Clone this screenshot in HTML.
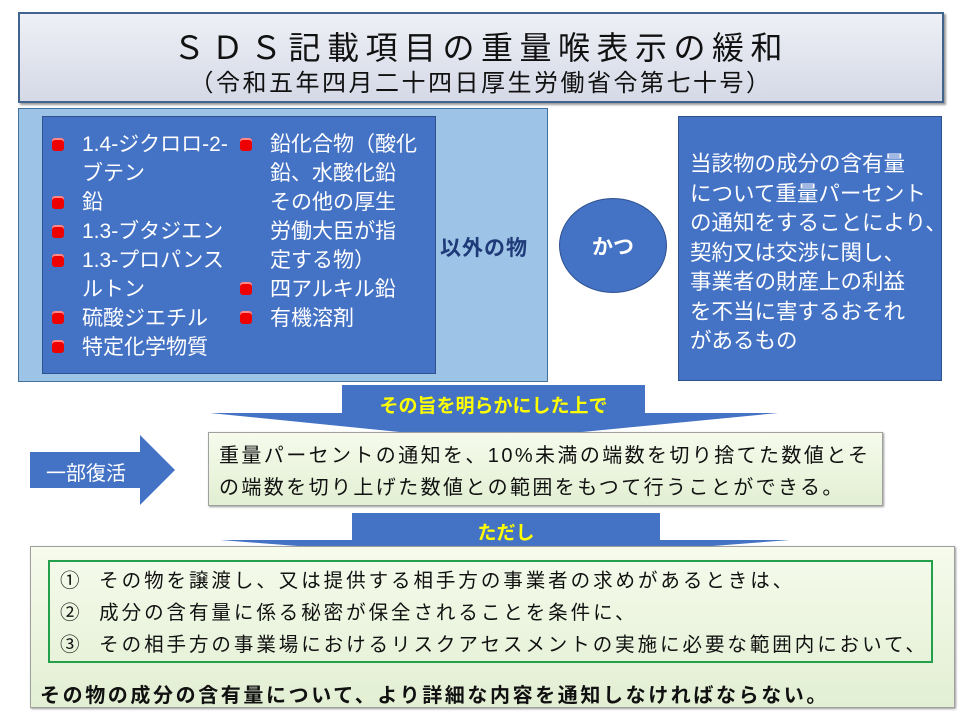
<!DOCTYPE html>
<html><head><meta charset="utf-8"><style>
*{margin:0;padding:0;box-sizing:border-box}
body{width:960px;height:720px;background:#fff;position:relative;overflow:hidden;font-family:"Liberation Sans","Noto Sans CJK JP",sans-serif}
.a{position:absolute}
.t{white-space:nowrap;position:absolute}
.bul{position:absolute;width:12px;height:13px;background:#e00;border-radius:3px;box-shadow:inset 0 2px 0 #f88}
.li{position:absolute;color:#fff;font-size:21px;line-height:29px;white-space:nowrap}
</style></head><body>
<div class="a" style="left:18px;top:12px;width:926px;height:91px;background:linear-gradient(#eef0f6,#d5d9e6);border:2px solid #41648f;box-shadow:2px 2px 2px #999"></div>
<div class="t" style="left:18px;width:926px;top:23px;text-align:center;font-size:32px;letter-spacing:6.5px;color:#111">ＳＤＳ記載項目の重量喉表示の緩和</div>
<div class="t" style="left:18px;width:926px;top:63px;text-align:center;font-size:24px;letter-spacing:2.5px;color:#111">（令和五年四月二十四日厚生労働省令第七十号）</div>

<div class="a" style="left:18px;top:108px;width:530px;height:274px;background:#9dc3e6;border:1px solid #41719c"></div>
<div class="a" style="left:42px;top:116px;width:394px;height:258px;background:#4472c4;border:1px solid #2f528f"></div>
<div class="bul" style="left:52px;top:138px"></div>
<div class="bul" style="left:52px;top:196px"></div>
<div class="bul" style="left:52px;top:225px"></div>
<div class="bul" style="left:52px;top:254px"></div>
<div class="bul" style="left:52px;top:311px"></div>
<div class="bul" style="left:52px;top:340px"></div>
<div class="li" style="left:82px;top:130px">1.4-ジクロロ-2-<br>ブテン<br>鉛<br>1.3-ブタジエン<br>1.3-プロパンス<br>ルトン<br>硫酸ジエチル<br>特定化学物質</div>
<div class="bul" style="left:240px;top:138px"></div>
<div class="bul" style="left:240px;top:282px"></div>
<div class="bul" style="left:240px;top:311px"></div>
<div class="li" style="left:270px;top:130px">鉛化合物（酸化<br>鉛、水酸化鉛<br>その他の厚生<br>労働大臣が指<br>定する物）<br>四アルキル鉛<br>有機溶剤</div>
<div class="t" style="left:440px;top:232px;font-size:21px;font-weight:bold;color:#1f3a78;letter-spacing:1px">以外の物</div>

<div class="a" style="left:559px;top:198px;width:108px;height:95px;border-radius:50%;background:#4472c4;border:1px solid #2f528f"></div>
<div class="t" style="left:559px;width:108px;top:231px;text-align:center;font-size:21px;font-weight:bold;color:#fff">かつ</div>

<div class="a" style="left:678px;top:116px;width:264px;height:265px;background:#4472c4;border:1px solid #2f528f"></div>
<div class="li" style="left:690px;top:150px;font-size:21.5px;line-height:29.5px">当該物の成分の含有量<br>について重量パーセント<br>の通知をすることにより、<br>契約又は交渉に関し、<br>事業者の財産上の利益<br>を不当に害するおそれ<br>があるもの</div>

<svg class="a" style="left:0;top:0" width="960" height="720">
<polygon points="342,385 645,385 645,413 778,413 490,441 210,413 342,413" fill="#4472c4"/>
<polygon points="352,513 660,513 660,540 790,540 505,562 220,540 352,540" fill="#4472c4"/>
<polygon points="30,452 140,452 140,435 175,470 140,505 140,488 30,488" fill="#4472c4"/>
</svg>
<div class="t" style="left:342px;width:303px;top:391px;text-align:center;font-size:19px;font-weight:bold;color:#ff0">その旨を明らかにした上で</div>
<div class="t" style="left:352px;width:308px;top:518px;text-align:center;font-size:19px;font-weight:bold;color:#ff0">ただし</div>
<div class="t" style="left:30px;width:112px;top:457px;text-align:center;font-size:20px;color:#fff">一部復活</div>

<div class="a" style="left:208px;top:432px;width:675px;height:74px;background:linear-gradient(#f6fbec,#e2efd3);border:1px solid #a0a0a0;box-shadow:1px 1px 2px #999"></div>
<div class="t" style="left:219px;top:440px;font-size:20px;line-height:32px;letter-spacing:2.4px;color:#111">重量パーセントの通知を、10%未満の端数を切り捨てた数値とそ<br>の端数を切り上げた数値との範囲をもつて行うことができる。</div>

<div class="a" style="left:30px;top:546px;width:925px;height:162px;background:linear-gradient(#f6fbec,#e2efd3);border:1px solid #a0a0a0;box-shadow:1px 1px 2px #999"></div>
<div class="a" style="left:48px;top:560px;width:885px;height:103px;border:2px solid #22a04b"></div>
<div class="t" style="left:60px;top:565px;font-size:19.5px;line-height:32px;letter-spacing:2.95px;color:#111">①&nbsp; その物を譲渡し、又は提供する相手方の事業者の求めがあるときは、<br>②&nbsp; 成分の含有量に係る秘密が保全されることを条件に、<br>③&nbsp; その相手方の事業場におけるリスクアセスメントの実施に必要な範囲内において、</div>
<div class="t" style="left:40px;top:679px;font-size:20px;font-weight:bold;letter-spacing:2.6px;color:#111">その物の成分の含有量について、より詳細な内容を通知しなければならない。</div>
</body></html>
